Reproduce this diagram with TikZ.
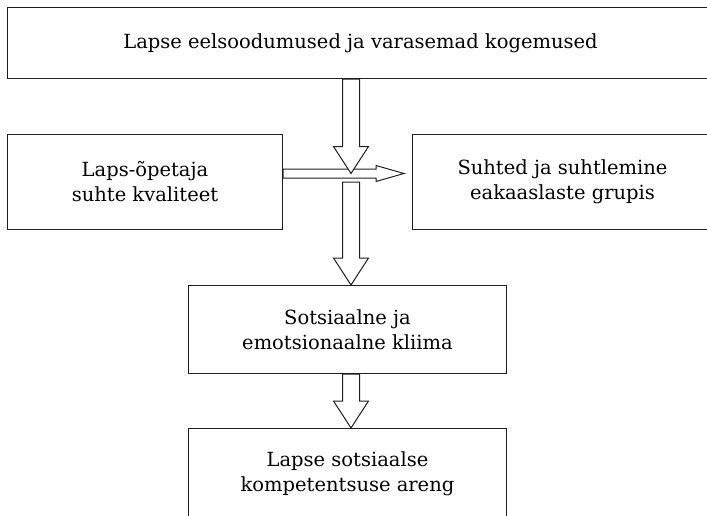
\documentclass[tikz,border=0pt]{standalone}
\usepackage{fontspec}
\setmainfont{DejaVu Serif}
\usepackage{tikz}
\usetikzlibrary{positioning,calc}
\definecolor{Frame}{HTML}{1E1E1E}

% hollow block arrows: start point, tip
\newcommand{\blockdown}[2]{%
  \draw[blockline] let \p1=(#1), \p2=(#2) in
    (\x1-8.5pt,\y1) -- (\x1-8.5pt,\y2+27pt) -- (\x1-17.5pt,\y2+27pt)
    -- (\x1,\y2) -- (\x1+17.5pt,\y2+27pt) -- (\x1+8.5pt,\y2+27pt)
    -- (\x1+8.5pt,\y1) -- cycle;}
\newcommand{\blockright}[2]{%
  \draw[blockline] let \p1=(#1), \p2=(#2) in
    (\x1,\y1+4.5pt) -- (\x2-28pt,\y1+4.5pt) -- (\x2-28pt,\y1+8pt)
    -- (\x2,\y1) -- (\x2-28pt,\y1-8pt) -- (\x2-28pt,\y1-4.5pt)
    -- (\x1,\y1-4.5pt) -- cycle;}

\begin{document}
\begin{tikzpicture}[
    x=1pt, y=-1pt,
    box/.style={draw=Frame, line width=1pt, fill=white, anchor=north west,
      align=center, inner sep=0pt, font=\fontsize{19.5}{25}\selectfont},
    blockline/.style={draw=Frame, line width=1pt, fill=white}
    ]
    \useasboundingbox (0,0) rectangle (707,515);

    % Previous experience
    \node[box, minimum width=706pt, minimum height=71pt] (top) at (7,7)
      {Lapse eelsoodumused ja varasemad kogemused};

    % Child-teacher relation
    \node[box, minimum width=275pt, minimum height=95pt] (teacher) at (7,134)
      {Laps-õpetaja\\suhte kvaliteet};

    % Peer relations
    \node[box, minimum width=300pt, minimum height=95pt] (peers) at (412,134)
      {Suhted ja suhtlemine\\eakaaslaste grupis};

    % Climate
    \node[box, minimum width=318pt, minimum height=88pt] (climate) at (188,285)
      {Sotsiaalne ja\\emotsionaalne kliima};

    % Competence
    \node[box, minimum width=318pt, minimum height=90pt] (competence) at (188,428)
      {Lapse sotsiaalse\\kompetentsuse areng};

    \coordinate (cross) at (351,173.5);
    \coordinate (below) at (351,182);

    % Arrows
    \blockright{teacher.east |- cross}{$(peers.west |- cross)+(-8,0)$}
    \blockdown{top.south -| cross}{cross}
    \blockdown{below}{climate.north -| cross}
    \blockdown{climate.south -| cross}{competence.north -| cross}
\end{tikzpicture}
\end{document}
